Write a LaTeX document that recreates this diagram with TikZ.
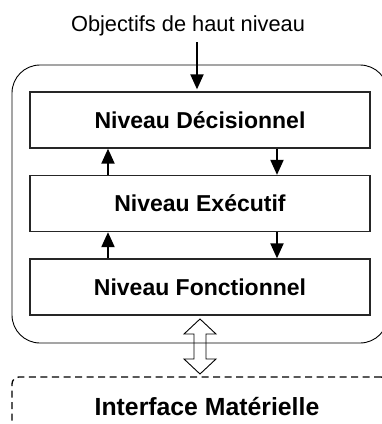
\documentclass[tikz,border=0pt]{standalone}
\usepackage{fontspec}
\setmainfont{Liberation Sans}
\usetikzlibrary{arrows.meta}
\tikzset{
  x=1pt,y=-1pt,
  levelbox/.style={draw=black!85,line width=1.3pt,minimum width=340pt,minimum height=56pt,inner sep=0pt,
    text depth=0pt,font=\fontsize{23}{27}\selectfont\bfseries},
  arr/.style={line width=2pt,-{Triangle[width=13pt,length=15pt]}},
  outerbox/.style={draw,line width=0.9pt,rounded corners=28pt,minimum width=376pt,minimum height=278pt,inner sep=0pt},
  hwbox/.style={draw,line width=1.3pt,dash pattern=on 7pt off 4.5pt,rounded corners=7pt,minimum width=376pt,minimum height=70pt,inner sep=0pt},
}
\begin{document}
\begin{tikzpicture}
\useasboundingbox (0,0) rectangle (382,424);
\clip (0,0) rectangle (382,424);
\node[outerbox] (outer) at (200,204) {};
\node[hwbox] (hw) at (200,412) {};
\node[anchor=base,font=\fontsize{24.8}{29}\selectfont\bfseries] (hwt) at (207,415) {Interface Matérielle};
\node[anchor=base,font=\fontsize{21.8}{26}\selectfont] (obj) at (188,31) {Objectifs de haut niveau};
\node[levelbox] (b1) at (200,120) {Niveau Décisionnel};
\node[levelbox] (b2) at (200,203.5) {Niveau Exécutif};
\node[levelbox] (b3) at (200,287) {Niveau Fonctionnel};
\coordinate (a0) at (197,42);
\draw[arr,shorten >=2pt] (a0) -- (a0 |- b1.north);
\coordinate (up) at (108,0);
\coordinate (dn) at (277,0);
\draw[arr] (up |- b2.north) -- (up |- b1.south);
\draw[arr] (dn |- b1.south) -- (dn |- b2.north);
\draw[arr] (up |- b3.north) -- (up |- b2.south);
\draw[arr] (dn |- b2.south) -- (dn |- b3.north);
\coordinate (dt) at (200,319);
\coordinate (db) at (200,374);
\draw[line width=0.9pt,line join=miter]
  (dt) -- ++(-16,15) -- ++(10,0) -- ++(0,25) -- ++(-10,0) -- (db)
  -- ++(16,-15) -- ++(-10,0) -- ++(0,-25) -- ++(10,0) -- cycle;
\end{tikzpicture}
\end{document}
